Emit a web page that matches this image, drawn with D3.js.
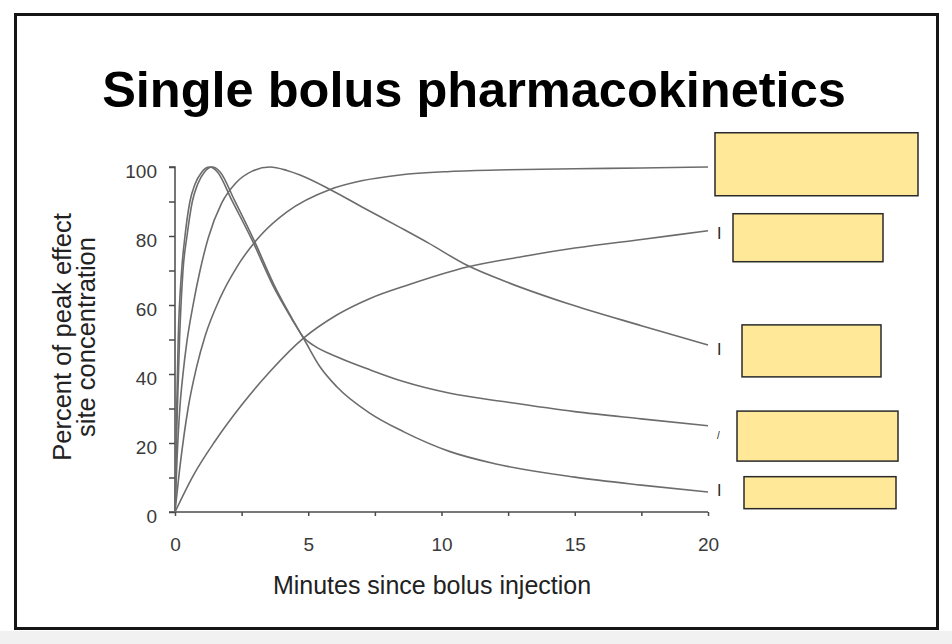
<!DOCTYPE html>
<html>
<head>
<meta charset="utf-8">
<script src="https://cdn.jsdelivr.net/npm/d3@7/dist/d3.min.js"></script>
<style>
  html, body { margin: 0; padding: 0; background: #ffffff; }
  svg { display: block; }
  text { font-family: "Liberation Sans", Arial, Helvetica, sans-serif; }
</style>
</head>
<body>
<svg id="chart" width="952" height="644"></svg>
<script>
// ---------------- DATA ----------------
const chartTitle = "Single bolus pharmacokinetics";
const xAxisTitle = "Minutes since bolus injection";
const yAxisTitle = ["Percent of peak effect", "site concentration"];

const xTickValues = [0, 2.5, 5, 7.5, 10, 12.5, 15, 17.5, 20];
const xTickLabels = [0, 5, 10, 15, 20];
const yTickValues = [0, 10, 20, 30, 40, 50, 60, 70, 80, 90, 100];
const yTickLabels = [0, 20, 40, 60, 80, 100];

// fast peak, lowest at 20 min
const seriesA_t = [0, 0.05, 0.12, 0.25, 0.375, 0.56, 0.75, 1.0, 1.3, 1.6, 2.13, 2.88, 3.75, 4.38, 4.81, 5.44, 6.07, 7.32, 8.57, 10.32, 12, 15, 17.5, 20];
const seriesA_v = [0, 25, 50, 70, 80, 90, 95, 98.5, 100, 98.5, 90.4, 79, 64.5, 56, 50.5, 42.1, 36.3, 28.6, 23.3, 17.5, 14, 10.1, 7.8, 5.8];
// fast peak, ~25% at 20 min
const seriesB_t = [0, 0.07, 0.17, 0.3, 0.45, 0.65, 0.85, 1.1, 1.4, 1.7, 2.23, 2.95, 3.8, 4.4, 4.81, 5.2, 6.07, 7.32, 8.57, 10.32, 12.5, 15, 17.5, 20];
const seriesB_v = [0, 25, 50, 70, 80, 90, 95, 98.5, 100, 98.5, 90.4, 79, 64.5, 56, 50.7, 48.3, 45, 41.2, 37.8, 34.4, 31.8, 29.1, 27, 25];
// peak at ~3.6 min
const seriesC_t = [0, 0.08, 0.19, 0.3, 0.44, 0.69, 0.94, 1.25, 1.75, 2.3, 2.9, 3.56, 4.2, 4.69, 5.82, 7, 8.44, 9.5, 10.96, 12.5, 14.7, 17.5, 20];
const seriesC_v = [0, 16, 31, 40, 49, 60.5, 70, 79.5, 89.5, 95.5, 98.8, 100, 99, 97.7, 93.5, 88.5, 82.5, 78, 71.5, 66.5, 60.5, 54, 48.4];
// rises to ~100 at 20 min
const seriesD_t = [0, 0.2, 0.49, 0.81, 1.13, 1.69, 2.32, 3.25, 4.2, 5.82, 7, 8.44, 10.32, 12.5, 15, 17.5, 20];
const seriesD_v = [0, 14, 30, 42, 51, 62, 71, 80.5, 87, 93.5, 96, 97.7, 98.7, 99.2, 99.5, 99.7, 100];
// slow rise to ~81 at 20 min
const seriesE_t = [0, 0.68, 1.5, 2.5, 3.6, 4.81, 6.07, 7.32, 8.82, 10.96, 13, 15, 17.5, 20];
const seriesE_v = [0, 10.5, 20.5, 31, 41, 50.3, 57.1, 61.9, 66, 71, 74, 76.5, 79, 81.5];

// label cover boxes (centre value on the y scale), and visible label fragments
const labelValues = [100.8, 79.5, 46.7, 22, 5.6];
const labelFragments = ["", "I", "I", "/", "I"];

// ---------------- LAYOUT ----------------
const W = 952, H = 644;
const plot = { left: 175, right: 708, top: 167, bottom: 512 };
const boxLayout = [
  { x: 715, w: 203, h: 63 },
  { x: 733, w: 150, h: 48 },
  { x: 742, w: 139, h: 52 },
  { x: 737, w: 161, h: 50 },
  { x: 744, w: 152, h: 32 }
];
const fragLayout = [
  { dy: 0, size: 16 },
  { dy: 1, size: 16 },
  { dy: 4, size: 16 },
  { dy: 3, size: 10 },
  { dy: 3, size: 16 }
];

const svg = d3.select("#chart");

// background and slide frame
svg.append("rect").attr("x", 0).attr("y", 0).attr("width", W).attr("height", H).attr("fill", "#ffffff");
svg.append("rect").attr("x", 0).attr("y", 631).attr("width", W).attr("height", H - 631).attr("fill", "#f1f1f1");
svg.append("rect").attr("x", 15.5).attr("y", 14.5).attr("width", 922).attr("height", 614)
  .attr("fill", "none").attr("stroke", "#151515").attr("stroke-width", 3);

// title
svg.append("text").attr("x", 474).attr("y", 107).attr("text-anchor", "middle")
  .attr("font-size", 50.5).attr("font-weight", "bold").attr("fill", "#000")
  .text(chartTitle);

// scales
const x = d3.scaleLinear().domain([0, 20]).range([plot.left, plot.right]);
const y = d3.scaleLinear().domain([0, 100]).range([plot.bottom, plot.top]);

const axisColor = "#4a4a4a";
const tickFont = "'DejaVu Sans', Verdana, sans-serif";

// y axis
const yAxis = d3.axisLeft(y).tickValues(yTickValues).tickSize(6).tickPadding(12)
  .tickFormat(d => yTickLabels.includes(d) ? d : "");
const gy = svg.append("g").attr("transform", `translate(${plot.left},0)`).call(yAxis);
gy.select(".domain").attr("stroke", axisColor).attr("stroke-width", 1.5).attr("d", `M-6,${plot.top}H0V${plot.bottom}H-6`);
gy.selectAll(".tick line").attr("stroke", axisColor).attr("stroke-width", 1.5);
gy.selectAll(".tick text").attr("font-size", 19).attr("fill", "#3a3a3a")
  .attr("font-family", tickFont).attr("dy", "0.55em");

// x axis
const xAxis = d3.axisBottom(x).tickValues(xTickValues).tickSize(4).tickPadding(22)
  .tickFormat(d => xTickLabels.includes(d) ? d : "");
const gx = svg.append("g").attr("transform", `translate(0,${plot.bottom})`).call(xAxis);
gx.select(".domain").attr("stroke", axisColor).attr("stroke-width", 1.5).attr("d", `M${plot.left},0H${plot.right}`);
gx.selectAll(".tick line").attr("stroke", axisColor).attr("stroke-width", 1.5);
gx.selectAll(".tick text").attr("font-size", 19).attr("fill", "#3a3a3a")
  .attr("font-family", tickFont);

// axis titles
svg.append("text").attr("x", 432).attr("y", 594).attr("text-anchor", "middle")
  .attr("font-size", 25).attr("fill", "#222").text(xAxisTitle);
const yTitle = svg.append("g").attr("transform", `translate(0,337) rotate(-90)`);
yTitle.append("text").attr("x", 0).attr("y", 71).attr("text-anchor", "middle")
  .attr("font-size", 25.5).attr("fill", "#222").text(yAxisTitle[0]);
yTitle.append("text").attr("x", 0).attr("y", 95).attr("text-anchor", "middle")
  .attr("font-size", 25.5).attr("fill", "#222").text(yAxisTitle[1]);

// curves
const series = [
  [seriesA_t, seriesA_v],
  [seriesB_t, seriesB_v],
  [seriesC_t, seriesC_v],
  [seriesD_t, seriesD_v],
  [seriesE_t, seriesE_v]
];
const line = d3.line().x(d => x(d[0])).y(d => y(d[1])).curve(d3.curveMonotoneX);
svg.append("g").selectAll("path").data(series).join("path")
  .attr("d", s => line(s[0].map((t, i) => [t, s[1][i]])))
  .attr("fill", "none").attr("stroke", "#6c6c6c").attr("stroke-width", 1.6)
  .attr("stroke-linejoin", "round");

// label fragments (hidden behind boxes)
svg.append("g").selectAll("text").data(labelValues).join("text")
  .attr("x", 717)
  .attr("y", (v, i) => y(v) + fragLayout[i].dy)
  .attr("font-size", (v, i) => fragLayout[i].size)
  .attr("fill", "#222")
  .text((v, i) => labelFragments[i]);

// yellow cover boxes
svg.append("g").selectAll("rect").data(labelValues).join("rect")
  .attr("x", (v, i) => boxLayout[i].x)
  .attr("y", (v, i) => y(v) - boxLayout[i].h / 2)
  .attr("width", (v, i) => boxLayout[i].w)
  .attr("height", (v, i) => boxLayout[i].h)
  .attr("fill", "#FFE898").attr("stroke", "#2a2a2a").attr("stroke-width", 1.5);
</script>
</body>
</html>
